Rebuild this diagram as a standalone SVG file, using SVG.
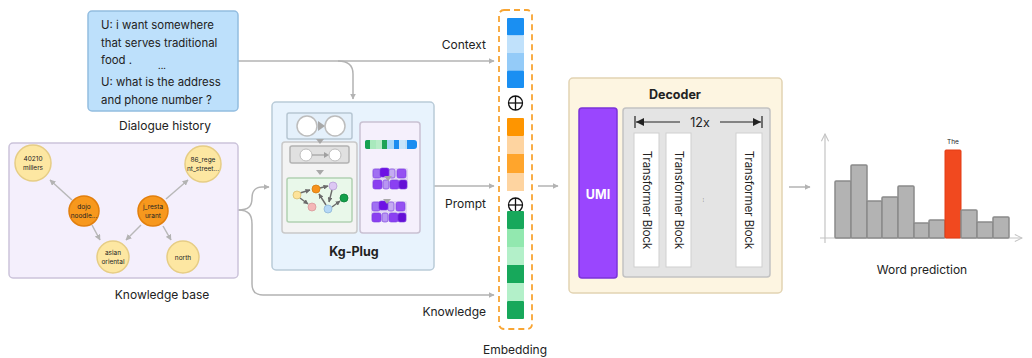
<svg xmlns="http://www.w3.org/2000/svg" width="1032" height="358" viewBox="0 0 1032 358">
<defs>
<style>
text{font-family:Inter,"Noto Sans","Liberation Sans",sans-serif;fill:#222}
.lbl{font-size:12px}
.dlg{font-size:11.4px}
.kn{font-size:6.5px;text-anchor:middle}
.conn{fill:none;stroke:#b3b3b3;stroke-width:1.5}
.yel{fill:#fde7a2;stroke:#e6cd85;stroke-width:1.5}
.org{fill:#f7981d;stroke:#e27f0c;stroke-width:1.5}
.bar{fill:#b3b3b3;stroke:#8a8a8a;stroke-width:1.5}
.tb{fill:#fff;stroke:#cfcfcf;stroke-width:1}
.tbt{font-size:11.3px}
.pb{stroke:#7a3ae0;stroke-width:0.6}
</style>
<marker id="ah" viewBox="0 0 10 10" refX="9" refY="5" markerWidth="6" markerHeight="6" orient="auto-start-reverse" markerUnits="userSpaceOnUse">
<path d="M0,0 L10,5 L0,10 z" fill="#b3b3b3"/>
</marker>
<marker id="ahs" viewBox="0 0 10 10" refX="9" refY="5" markerWidth="5" markerHeight="5" orient="auto" markerUnits="userSpaceOnUse">
<path d="M0,0 L10,5 L0,10 z" fill="#6b6b6b"/>
</marker>
<marker id="chev" viewBox="0 0 10 10" refX="9" refY="5" markerWidth="9" markerHeight="9" orient="auto" markerUnits="userSpaceOnUse">
<path d="M1,1 L9,5 L1,9" fill="none" stroke="#c4c4c4" stroke-width="1.2"/>
</marker>
</defs>

<g id="connectors">
<path class="conn" d="M238,61 L494,61" marker-end="url(#ah)"/>
<path class="conn" d="M338,61 C348,61 353,65 353,74 L353,99" marker-end="url(#ah)"/>
<path class="conn" d="M238,210 C249,210 252,206 252,198 C252,191 256,187 262,187 L269,187" marker-end="url(#ah)"/>
<path class="conn" d="M238,210 C249,210 252,215 252,224 L252,284 Q252,295 263,295 L494,295" marker-end="url(#ah)"/>
<path class="conn" d="M434,186 L494,186" marker-end="url(#ah)"/>
<path class="conn" d="M538,186 L558,186" marker-end="url(#ah)"/>
<path class="conn" d="M789,187 L810,187" marker-end="url(#ah)"/>
</g>

<g id="dialogue-history">
<rect x="88" y="11" width="150" height="100" rx="4" fill="#bde0fb" stroke="#93bde0" stroke-width="1.5"/>
<text class="dlg" x="101" y="29">U: i want somewhere</text>
<text class="dlg" x="101" y="47">that serves traditional</text>
<text class="dlg" x="101" y="64">food .</text>
<text x="162" y="69" style="font-size:9px;text-anchor:middle">...</text>
<text class="dlg" x="101" y="86">U: what is the address</text>
<text class="dlg" x="101" y="104">and phone number ?</text>
<text class="lbl" x="165" y="130" text-anchor="middle">Dialogue history</text>
</g>

<g id="knowledge-base">
<rect x="9" y="143" width="229" height="135" rx="4" fill="#f4effc" stroke="#cbc3da" stroke-width="1.5"/>
<g stroke="#b8b8b8" stroke-width="1.5">
<line x1="72" y1="200" x2="50" y2="180" marker-end="url(#ah)"/>
<line x1="92" y1="225" x2="100" y2="240" marker-end="url(#ah)"/>
<line x1="141" y1="225" x2="126" y2="240" marker-end="url(#ah)"/>
<line x1="166" y1="199" x2="188" y2="180" marker-end="url(#ah)"/>
<line x1="163" y1="226" x2="171" y2="240" marker-end="url(#ah)"/>
</g>
<g id="n-40210"><circle class="yel" cx="33" cy="163" r="18"/><text class="kn" x="33" y="161">40210</text><text class="kn" x="33" y="170">millers</text></g>
<g id="n-86"><circle class="yel" cx="203" cy="164" r="18"/><text class="kn" x="203" y="162">86_rege</text><text class="kn" x="203" y="171">nt_street...</text></g>
<g id="n-dojo"><circle class="org" cx="84" cy="211" r="15"/><text class="kn" x="84" y="209">dojo</text><text class="kn" x="84" y="218">noodle...</text></g>
<g id="n-jrest"><circle class="org" cx="153" cy="211" r="15"/><text class="kn" x="153" y="209">j_resta</text><text class="kn" x="153" y="218">urant</text></g>
<g id="n-asian"><circle class="yel" cx="113" cy="257" r="16"/><text class="kn" x="113" y="255">asian</text><text class="kn" x="113" y="264">oriental</text></g>
<g id="n-north"><circle class="yel" cx="183" cy="257" r="16"/><text class="kn" x="183" y="260">north</text></g>
<text class="lbl" x="162" y="299" text-anchor="middle">Knowledge base</text>
</g>

<g id="kg-plug">
<rect x="272" y="102" width="162" height="168" rx="4" fill="#e8f3fd" stroke="#b9cbd8" stroke-width="1.5"/>
<rect x="287" y="113" width="65" height="26" rx="2" fill="#e4f0fb" stroke="#b6c6d2" stroke-width="1.5"/>
<circle cx="307" cy="126" r="10" fill="#fff" stroke="#bdbdbd" stroke-width="1.5"/>
<circle cx="335" cy="126" r="10" fill="#fff" stroke="#bdbdbd" stroke-width="1.5"/>
<path d="M318,121 L325,126 L318,131 z" fill="#a8a8a8"/>
<rect x="282" y="142" width="75" height="91" rx="3" fill="#f3f3f3" stroke="#c9c9c9" stroke-width="1.5"/>
<path d="M316,139 L324,139 L320,144 z" fill="#a8a8a8"/>
<rect x="290" y="146" width="59" height="17" rx="2" fill="#e0e0e0" stroke="#b3b3b3" stroke-width="1.5"/>
<circle cx="306" cy="155" r="6" fill="#fff" stroke="#bdbdbd" stroke-width="1"/>
<circle cx="335" cy="155" r="6" fill="#fff" stroke="#bdbdbd" stroke-width="1"/>
<line x1="312" y1="155" x2="326" y2="155" stroke="#a0a0a0" stroke-width="1.2"/>
<path d="M324,152 L329,155 L324,158 z" fill="#a0a0a0"/>
<path d="M316,170 L324,170 L320,175 z" fill="#a8a8a8"/>
<rect x="287" y="178" width="65" height="44" rx="2" fill="#e9f8ea" stroke="#b1d1b2" stroke-width="1.5"/>
<g stroke="#6b6b6b" stroke-width="1.4">
<line x1="300" y1="193" x2="310" y2="190" marker-end="url(#ahs)"/>
<line x1="300" y1="198" x2="308" y2="204" marker-end="url(#ahs)"/>
<line x1="320" y1="188" x2="328" y2="186" marker-end="url(#ahs)"/>
<line x1="332" y1="190" x2="329" y2="202" marker-end="url(#ahs)"/>
<line x1="326" y1="205" x2="319" y2="194" marker-end="url(#ahs)"/>
<line x1="332" y1="207" x2="340" y2="201" marker-end="url(#ahs)"/>
</g>
<circle cx="297" cy="195" r="4" fill="#fde39a" stroke="#d9bf72" stroke-width="0.8"/>
<circle cx="316" cy="189" r="4" fill="#f7921a" stroke="#d47c12" stroke-width="0.8"/>
<circle cx="312" cy="207" r="4" fill="#f4b7b7" stroke="#d89a9a" stroke-width="0.8"/>
<circle cx="333" cy="186" r="4" fill="#ddc8f4" stroke="#b8a0d8" stroke-width="0.8"/>
<circle cx="328" cy="209" r="4" fill="#b5d8f6" stroke="#8fb6d8" stroke-width="0.8"/>
<circle cx="344" cy="198" r="4" fill="#12a04a" stroke="#0b8038" stroke-width="0.8"/>
<rect x="360" y="122" width="60" height="111" rx="3" fill="#f5f0fc" stroke="#c9c1d2" stroke-width="1.5"/>
<g>
<rect x="365" y="140" width="52" height="9" rx="3" fill="#1a8cf0"/>
<rect x="365" y="140" width="8" height="9" rx="2" fill="#16a050"/>
<rect x="370" y="140" width="6" height="9" fill="#a9e9bd"/>
<rect x="376" y="140" width="6" height="9" fill="#b8ecc8"/>
<rect x="382" y="140" width="5" height="9" fill="#1ea357"/>
<rect x="387" y="140" width="7" height="9" fill="#a9d6f7"/>
<rect x="394" y="140" width="5" height="9" fill="#1a8cf0"/>
<rect x="399" y="140" width="6" height="9" fill="#c7e4fa"/>
<rect x="405" y="140" width="2" height="9" fill="#bcdcf5"/>
</g>
<g>
<rect x="372" y="168" width="36" height="21" rx="2" fill="#d8ccef" opacity="0.7"/>
<rect class="pb" x="373" y="169" width="8" height="9" rx="2" fill="#a070f2"/>
<rect class="pb" x="380" y="168" width="9" height="9" rx="2" fill="#6d12e4"/>
<rect class="pb" x="389" y="169" width="6" height="9" rx="2" fill="#c4abf2"/>
<rect class="pb" x="397" y="169" width="9" height="9" rx="2" fill="#9552f2"/>
<rect class="pb" x="373" y="180" width="9" height="9" rx="2" fill="#8a3ff0"/>
<rect class="pb" x="383" y="180" width="6" height="9" rx="2" fill="#b896f2"/>
<rect class="pb" x="390" y="180" width="9" height="9" rx="2" fill="#8b40f2"/>
<rect class="pb" x="399" y="180" width="8" height="9" rx="2" fill="#6410d6"/>
<path d="M384,176 L392,176 L388,181 z" fill="#a8a8a8"/>
</g>
<g>
<rect x="371" y="201" width="36" height="21" rx="2" fill="#d8ccef" opacity="0.7"/>
<rect class="pb" x="372" y="202" width="8" height="9" rx="2" fill="#a070f2"/>
<rect class="pb" x="379" y="201" width="9" height="9" rx="2" fill="#6d12e4"/>
<rect class="pb" x="388" y="202" width="6" height="9" rx="2" fill="#c4abf2"/>
<rect class="pb" x="396" y="202" width="9" height="9" rx="2" fill="#9552f2"/>
<rect class="pb" x="372" y="213" width="9" height="9" rx="2" fill="#8a3ff0"/>
<rect class="pb" x="382" y="213" width="6" height="9" rx="2" fill="#b896f2"/>
<rect class="pb" x="389" y="213" width="9" height="9" rx="2" fill="#8b40f2"/>
<rect class="pb" x="398" y="213" width="8" height="9" rx="2" fill="#6410d6"/>
<path d="M383,199 L391,199 L387,204 z" fill="#a8a8a8"/>
</g>
<text x="354" y="256" text-anchor="middle" style="font-size:12.5px;font-weight:700">Kg-Plug</text>
</g>

<g id="labels">
<text class="lbl" x="486" y="49" text-anchor="end">Context</text>
<text class="lbl" x="486" y="208" text-anchor="end">Prompt</text>
<text class="lbl" x="486" y="316" text-anchor="end">Knowledge</text>
</g>

<g id="embedding">
<rect x="499" y="10" width="33" height="319" rx="5" fill="none" stroke="#f8a533" stroke-width="1.8" stroke-dasharray="6,4"/>
<rect x="507" y="18" width="17" height="17.5" rx="1" fill="#1a8ff2"/>
<rect x="507" y="35.5" width="17" height="17.5" fill="#c0e1fb"/>
<rect x="507" y="53" width="17" height="17.5" fill="#94cbf8"/>
<rect x="507" y="70.5" width="17" height="17.5" rx="1" fill="#1a8ff2"/>
<g stroke="#111" stroke-width="1.3" fill="none">
<circle cx="515.5" cy="103" r="7"/><line x1="508.5" y1="103" x2="522.5" y2="103"/><line x1="515.5" y1="96" x2="515.5" y2="110"/>
<circle cx="515.5" cy="205" r="7"/><line x1="508.5" y1="205" x2="522.5" y2="205"/><line x1="515.5" y1="198" x2="515.5" y2="212"/>
</g>
<rect x="507" y="118" width="17" height="18" rx="1" fill="#fe9500"/>
<rect x="507" y="136" width="17" height="18" fill="#fed4a0"/>
<rect x="507" y="154" width="17" height="19" fill="#ffa52c"/>
<rect x="507" y="173" width="17" height="18" fill="#fed4a0"/>
<rect x="507" y="211" width="17" height="18" rx="1" fill="#17a85b"/>
<rect x="507" y="229" width="17" height="18" fill="#92e8af"/>
<rect x="507" y="247" width="17" height="18" fill="#b3f0c9"/>
<rect x="507" y="265" width="17" height="18" fill="#17a85b"/>
<rect x="507" y="283" width="17" height="18" fill="#b3f0c9"/>
<rect x="507" y="301" width="17" height="18" rx="1" fill="#17a85b"/>
<text class="lbl" x="515" y="354" text-anchor="middle">Embedding</text>
</g>

<g id="decoder">
<rect x="569" y="78" width="213" height="215" rx="4" fill="#fdf5e1" stroke="#e2d3b2" stroke-width="1.5"/>
<text x="675" y="99" text-anchor="middle" style="font-size:12.5px;font-weight:700">Decoder</text>
<g id="umi">
<rect x="579" y="108" width="38" height="170" rx="3" fill="#9a46fe" stroke="#7b33d9" stroke-width="1.5"/>
<text x="598" y="199" text-anchor="middle" style="font-size:12.5px;font-weight:700;fill:#fff">UMI</text>
</g>
<g id="transformer-stack">
<rect x="623" y="108" width="147" height="169" rx="3" fill="#e4e4e4" stroke="#c2c2c2" stroke-width="1.5"/>
<line x1="635" y1="116" x2="635" y2="128" stroke="#222" stroke-width="1.2"/>
<line x1="762" y1="116" x2="762" y2="128" stroke="#222" stroke-width="1.2"/>
<line x1="636" y1="122" x2="680" y2="122" stroke="#222" stroke-width="1.2"/>
<line x1="720" y1="122" x2="761" y2="122" stroke="#222" stroke-width="1.2"/>
<path d="M636,122 L644,118 L644,126 z" fill="#222"/>
<path d="M761,122 L753,118 L753,126 z" fill="#222"/>
<text x="700" y="126.5" text-anchor="middle" style="font-size:12.5px">12x</text>
<g id="tb1"><rect class="tb" x="634" y="133" width="25" height="134"/><text class="tbt" transform="translate(643,200) rotate(90)" text-anchor="middle">Transformer Block</text></g>
<g id="tb2"><rect class="tb" x="666" y="133" width="25" height="134"/><text class="tbt" transform="translate(675,200) rotate(90)" text-anchor="middle">Transformer Block</text></g>
<text transform="translate(703,200) rotate(90)" text-anchor="middle" style="font-size:5px">...</text>
<g id="tb3"><rect class="tb" x="736" y="133" width="26" height="134"/><text class="tbt" transform="translate(745,200) rotate(90)" text-anchor="middle">Transformer Block</text></g>
</g>
</g>

<g id="word-prediction">
<line x1="825" y1="243" x2="825" y2="134" stroke="#c4c4c4" stroke-width="1.2" marker-end="url(#chev)"/>
<line x1="820" y1="238" x2="1022" y2="238" stroke="#c4c4c4" stroke-width="1.2" marker-end="url(#chev)"/>
<rect class="bar" x="835" y="181" width="16" height="57" rx="1"/>
<rect class="bar" x="851" y="165" width="16" height="73" rx="1"/>
<rect class="bar" x="867" y="201" width="15" height="37" rx="1"/>
<rect class="bar" x="882" y="197" width="16" height="41" rx="1"/>
<rect class="bar" x="898" y="186" width="16" height="52" rx="1"/>
<rect class="bar" x="914" y="223" width="15" height="15" rx="1"/>
<rect class="bar" x="929" y="220" width="16" height="18" rx="1"/>
<rect x="945" y="150" width="16" height="88" rx="1" fill="#f1491f" stroke="#e33d14" stroke-width="1"/>
<rect class="bar" x="961" y="210" width="16" height="28" rx="1"/>
<rect class="bar" x="977" y="222" width="16" height="16" rx="1"/>
<rect class="bar" x="993" y="217" width="16" height="21" rx="1"/>
<text x="953" y="144" text-anchor="middle" style="font-size:6.5px">The</text>
<text class="lbl" x="922" y="274" text-anchor="middle">Word prediction</text>
</g>
</svg>
